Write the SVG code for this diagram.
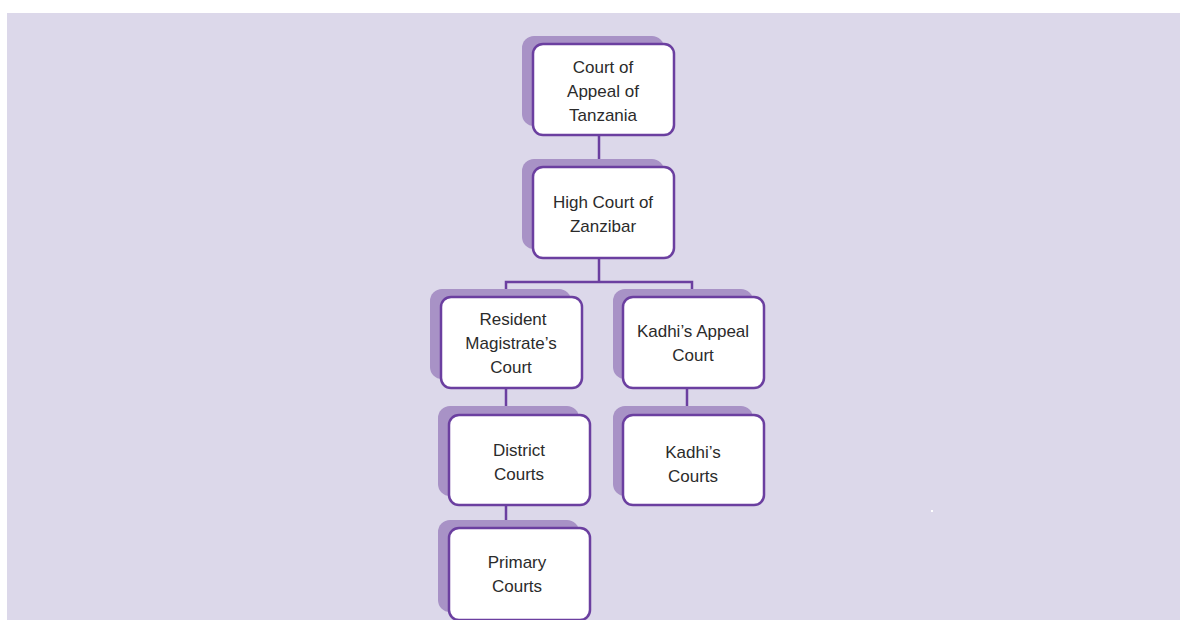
<svg xmlns="http://www.w3.org/2000/svg" width="1180" height="620" viewBox="0 0 1180 620">
<style>
.bg{fill:#dcd8ea}
.sh{fill:#a892c6}
.bx{fill:#ffffff;stroke:#6b3fa0;stroke-width:2.5}
.ln{fill:none;stroke:#6b3fa0;stroke-width:2.5}
text{font-family:"Liberation Sans",Arial,sans-serif;font-size:17px;fill:#2b2b2b;text-anchor:middle}
</style>
<rect x="0" y="0" width="1180" height="620" fill="#ffffff"/>
<rect class="bg" x="7" y="13" width="1173" height="607"/>
<rect x="931" y="510" width="2" height="2" fill="#ffffff"/>
<g id="connectors">
<path class="ln" d="M599 135V167"/>
<path class="ln" d="M599 258V282M506 297V282H692V297"/>
<path class="ln" d="M506 388V415"/>
<path class="ln" d="M687 388V415"/>
<path class="ln" d="M506 505V528"/>
</g>
<g id="n-appeal">
<rect class="sh" x="522" y="36" width="142" height="90" rx="12"/>
<rect class="bx" x="533" y="44" width="141" height="91" rx="10"/>
<text x="603" y="73">Court of</text>
<text x="603" y="97">Appeal of</text>
<text x="603" y="121">Tanzania</text>
</g>
<g id="n-high">
<rect class="sh" x="522" y="159" width="142" height="90" rx="12"/>
<rect class="bx" x="533" y="167" width="141" height="91" rx="10"/>
<text x="603" y="208">High Court of</text>
<text x="603" y="232">Zanzibar</text>
</g>
<g id="n-resident">
<rect class="sh" x="430" y="289" width="141" height="90" rx="12"/>
<rect class="bx" x="441" y="297" width="141" height="91" rx="10"/>
<text x="513" y="325">Resident</text>
<text x="511" y="349">Magistrate’s</text>
<text x="511" y="373">Court</text>
</g>
<g id="n-kadhi-appeal">
<rect class="sh" x="613" y="289" width="140" height="90" rx="12"/>
<rect class="bx" x="623" y="297" width="141" height="91" rx="10"/>
<text x="693" y="337">Kadhi’s Appeal</text>
<text x="693" y="361">Court</text>
</g>
<g id="n-district">
<rect class="sh" x="438" y="406" width="141" height="90" rx="12"/>
<rect class="bx" x="449" y="415" width="141" height="90" rx="10"/>
<text x="519" y="456">District</text>
<text x="519" y="480">Courts</text>
</g>
<g id="n-kadhi">
<rect class="sh" x="613" y="406" width="140" height="90" rx="12"/>
<rect class="bx" x="623" y="415" width="141" height="90" rx="10"/>
<text x="693" y="458">Kadhi’s</text>
<text x="693" y="482">Courts</text>
</g>
<g id="n-primary">
<rect class="sh" x="438" y="520" width="141" height="92" rx="12"/>
<rect class="bx" x="449" y="528" width="141" height="92" rx="10"/>
<text x="517" y="568">Primary</text>
<text x="517" y="592">Courts</text>
</g>
</svg>
